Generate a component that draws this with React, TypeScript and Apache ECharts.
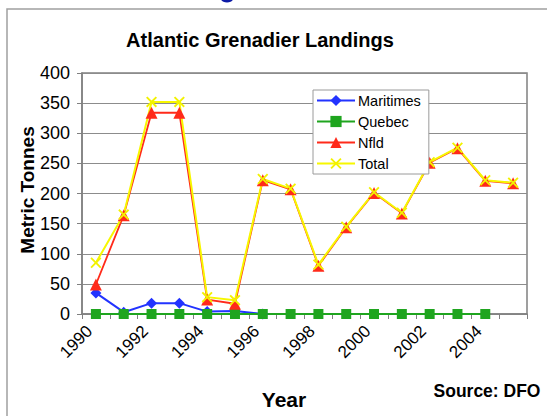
import React, { useEffect, useRef } from "react";
import * as echarts from "echarts";

const years = ["1990","1991","1992","1993","1994","1995","1996","1997","1998","1999","2000","2001","2002","2003","2004","2005"];
const maritimes = [35, 3, 18, 18, 4, 5, 0, null, null, null, null, null, null, null, null, null];
const quebec = [0, 0, 0, 0, 0, 0, 0, 0, 0, 0, 0, 0, 0, 0, 0, null];
const nfld = [49, 164, 334, 334, 24, 17, 222, 207, 80, 144, 201, 167, 251, 275, 221, 217];
const total = [85, 165, 352, 352, 28, 23, 224, 208, 82, 145, 202, 168, 252, 276, 222, 218];
const yTicks = { min: 0, max: 400, interval: 50 };

const FONT = "Liberation Sans, Arial, sans-serif";
const X_SYMBOL = "path://M0,1.2 L1.2,0 L5,3.8 L8.8,0 L10,1.2 L6.2,5 L10,8.8 L8.8,10 L5,6.2 L1.2,10 L0,8.8 L3.8,5 Z";

export default function App() {
  const ref = useRef<HTMLDivElement>(null);
  useEffect(() => {
    if (!ref.current) return;
    const chart = echarts.init(ref.current, null, { renderer: "svg" });
    chart.setOption({
      animation: false,
      backgroundColor: "#ffffff",
      textStyle: { fontFamily: FONT },
      grid: {
        left: 82, top: 73, width: 445, height: 241,
        show: true, borderColor: "#808080", borderWidth: 1.5, backgroundColor: "transparent",
      },
      legend: {
        left: 313, top: 90, orient: "vertical",
        padding: [3, 8, 3, 3],
        itemWidth: 38, itemHeight: 14, itemGap: 6,
        backgroundColor: "#ffffff", borderColor: "#9a9a9a", borderWidth: 1,
        textStyle: { fontSize: 14.5, color: "#000", fontFamily: FONT, padding: [0, 0, 0, -2] },
        data: ["Maritimes", "Quebec", "Nfld", "Total"],
      },
      xAxis: {
        type: "category",
        data: years,
        boundaryGap: true,
        axisLine: { lineStyle: { color: "#808080", width: 1.5 } },
        axisTick: { show: true, interval: 0, length: 5, lineStyle: { color: "#808080" } },
        axisLabel: { interval: 1, rotate: 45, fontSize: 17, color: "#000", margin: 8, padding: [0, 9, 0, 0], fontFamily: FONT },
        splitLine: { show: false },
      },
      yAxis: {
        type: "value",
        min: yTicks.min, max: yTicks.max, interval: yTicks.interval,
        axisLine: { show: true, lineStyle: { color: "#808080", width: 1.5 } },
        axisTick: { show: true, length: 5, lineStyle: { color: "#808080" } },
        axisLabel: { fontSize: 18, color: "#000", margin: 12, fontFamily: FONT },
        splitLine: { show: true, lineStyle: { color: "#8c8c8c", width: 1 } },
      },
      series: [
        {
          name: "Maritimes", type: "line", data: maritimes,
          symbol: "diamond", symbolSize: 11,
          itemStyle: { color: "#2233ff" }, lineStyle: { color: "#2233ff", width: 2 },
        },
        {
          name: "Quebec", type: "line", data: quebec,
          symbol: "rect", symbolSize: 10,
          itemStyle: { color: "#1fa51f" }, lineStyle: { color: "#1fa51f", width: 2 },
        },
        {
          name: "Nfld", type: "line", data: nfld,
          symbol: "triangle", symbolSize: 12,
          itemStyle: { color: "#ff2a1a" }, lineStyle: { color: "#ff2a1a", width: 1.8 },
        },
        {
          name: "Total", type: "line", data: total,
          symbol: X_SYMBOL, symbolSize: 11,
          itemStyle: { color: "#f2f200" }, lineStyle: { color: "#f7f700", width: 2 },
        },
      ],
      graphic: [
        { type: "rect", shape: { x: 7, y: 9, width: 700, height: 500 }, style: { fill: "none", stroke: "#a0a0a0", lineWidth: 1.5 }, silent: true },
        { type: "ellipse", shape: { cx: 227, cy: -1, rx: 6, ry: 3.5 }, style: { fill: "#0c1aa6" } },
        { type: "text", x: 260, y: 40, style: { text: "Atlantic Grenadier Landings", font: `bold 20px ${FONT}`, fill: "#000", textAlign: "center", textVerticalAlign: "middle" } },
        { type: "text", x: 27, y: 190, rotation: Math.PI / 2, style: { text: "Metric Tonnes", font: `bold 19px ${FONT}`, fill: "#000", textAlign: "center", textVerticalAlign: "middle" } },
        { type: "text", x: 284, y: 399, style: { text: "Year", font: `bold 21px ${FONT}`, fill: "#000", textAlign: "center", textVerticalAlign: "middle" } },
        { type: "text", x: 487, y: 391, style: { text: "Source: DFO", font: `bold 17.5px ${FONT}`, fill: "#000", textAlign: "center", textVerticalAlign: "middle" } },
      ],
    });
    return () => chart.dispose();
  }, []);
  return <div ref={ref} style={{ position: "fixed", left: 0, top: 0, width: 547, height: 416 }} />;
}
